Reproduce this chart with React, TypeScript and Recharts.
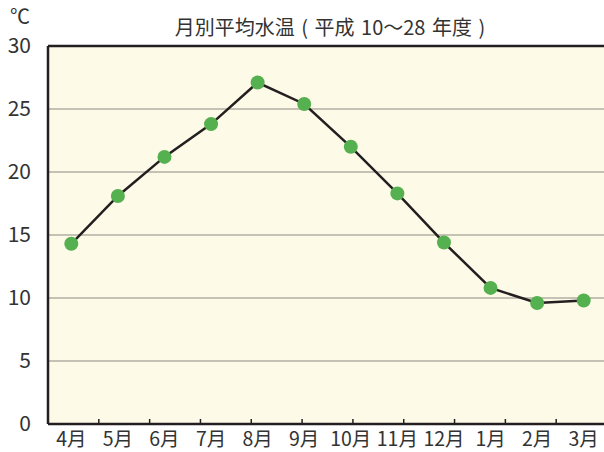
import React from "react";
import { LineChart, Line, XAxis, YAxis, CartesianGrid, ReferenceLine } from "recharts";

const months = ["4月", "5月", "6月", "7月", "8月", "9月", "10月", "11月", "12月", "1月", "2月", "3月"];
const temps = [14.3, 18.1, 21.2, 23.8, 27.1, 25.4, 22.0, 18.3, 14.4, 10.8, 9.6, 9.8];
const yTicks = [0, 5, 10, 15, 20, 25, 30];
const boundaryTicks = [1, 2, 3, 4, 5, 6, 7, 8, 9, 10, 11];

const data = months.map((m, i) => ({ month: m, temp: temps[i] }));

const FONT = "'Noto Sans CJK JP', 'Noto Sans', sans-serif";
const DARK = "#231f20";

const NoLabel = () => <g />;

export default function App() {
  return (
    <div style={{ position: "absolute", left: 0, top: 0, width: 604, height: 452, overflow: "hidden", fontFamily: FONT }}>
      <div style={{ position: "absolute", left: 10, top: 3, fontSize: 20, lineHeight: "26px", color: "#333" }}>℃</div>
      <div style={{ position: "absolute", left: 0, width: 660, top: 14, textAlign: "center", fontSize: 20, lineHeight: "26px", color: "#333", wordSpacing: 2 }}>
        月別平均水温 ( 平成 10〜28 年度 )
      </div>
      <LineChart width={620} height={452} data={data} margin={{ top: 46, right: 13, bottom: 4, left: 8 }}>
        <CartesianGrid
          xAxisId="cat"
          vertical={false}
          horizontal={true}
          stroke="#8a8a80"
          strokeWidth={1.2}
          fill="#fefae8"
          fillOpacity={1}
        />
        <XAxis
          xAxisId="grid"
          type="number"
          domain={[0, 12]}
          ticks={boundaryTicks}
          allowDataOverflow
          height={1}
          mirror
          tick={NoLabel}
          tickSize={5}
          tickLine={{ stroke: DARK, strokeWidth: 1.5 }}
          axisLine={false}
        />
        <XAxis
          xAxisId="cat"
          dataKey="month"
          scale="band"
          height={24}
          tickSize={0}
          tickMargin={8}
          tickLine={false}
          axisLine={{ stroke: DARK, strokeWidth: 2.5 }}
          interval={0}
          tick={{ fill: "#333", fontSize: 19.5, fontFamily: FONT }}
        />
        <YAxis
          domain={[0, 30]}
          ticks={yTicks}
          width={40}
          tickSize={0}
          tickMargin={17}
          tickLine={false}
          axisLine={{ stroke: DARK, strokeWidth: 2.5 }}
          tick={{ fill: "#333", fontSize: 21, fontFamily: FONT }}
        />
        <ReferenceLine xAxisId="cat" y={30} stroke={DARK} strokeWidth={2.5} />
        <Line
          xAxisId="cat"
          type="linear"
          dataKey="temp"
          stroke={DARK}
          strokeWidth={2.5}
          dot={{ r: 7, fill: "#55b04f", stroke: "none" }}
          isAnimationActive={false}
        />
      </LineChart>
    </div>
  );
}
